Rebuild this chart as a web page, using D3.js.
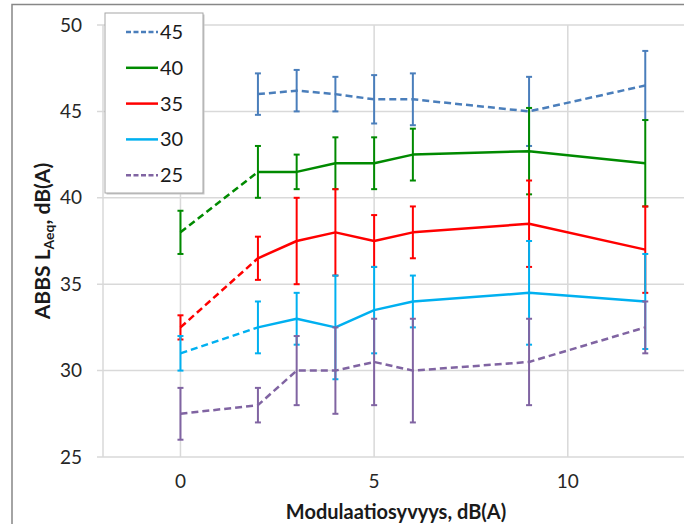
<!DOCTYPE html>
<html>
<head>
<meta charset="utf-8">
<script src="https://cdn.jsdelivr.net/npm/d3@7"></script>
<style>
  body { margin: 0; background: #fff; }
  svg { display: block; font-family: Lato, "Open Sans", sans-serif; }
</style>
</head>
<body>
<div id="chart"></div>
<script>
/* DATA */
const xValues = [0, 2, 3, 4, 5, 6, 9, 12];
const levels = ["45", "40", "35", "30", "25"];
const mean45 = [null, 46.0, 46.2, 46.0, 45.7, 45.7, 45.0, 46.5];
const err45 = [null, 1.2, 1.2, 1.0, 1.4, 1.5, 2.0, 2.0];
const mean40 = [38.0, 41.5, 41.5, 42.0, 42.0, 42.5, 42.7, 42.0];
const err40 = [1.25, 1.5, 1.0, 1.5, 1.5, 1.5, 2.5, 2.5];
const mean35 = [32.5, 36.5, 37.5, 38.0, 37.5, 38.0, 38.5, 37.0];
const err35 = [0.7, 1.25, 2.5, 2.5, 1.5, 1.5, 2.5, 2.5];
const mean30 = [31.0, 32.5, 33.0, 32.5, 33.5, 34.0, 34.5, 34.0];
const err30 = [1.0, 1.5, 1.5, 3.0, 2.5, 1.5, 3.0, 2.75];
const mean25 = [27.5, 28.0, 30.0, 30.0, 30.5, 30.0, 30.5, 32.5];
const err25 = [1.5, 1.0, 2.0, 2.5, 2.5, 3.0, 2.5, 1.5];
const xTicks = [0, 5, 10];
const yTicks = [25, 30, 35, 40, 45, 50];

// style per series (solidFrom = index where solid line starts, null = all dashed)
const colors = ["#4a7ebb", "#008a00", "#ff0000", "#00b0f0", "#8064a2"];
const solidFrom = [null, 1, 1, 1, null];
const means = [mean45, mean40, mean35, mean30, mean25];
const errs = [err45, err40, err35, err30, err25];

/* CONSTANTS */
const width = 684, height = 524;
const margin = { top: 25, bottom: 67, left: 103, right: 0 };

const svg = d3.select("#chart")
  .append("svg")
  .attr("width", width)
  .attr("height", height);

// outer chart frame (cropped on right and bottom)
svg.append("rect")
  .attr("x", 12).attr("y", 4.5)
  .attr("width", 700).attr("height", 560)
  .attr("fill", "none")
  .attr("stroke", "#878787")
  .attr("stroke-width", 1.5);

/* SCALES */
const xScale = d3.scaleLinear()
  .domain([-2, 13])
  .range([margin.left, width - margin.right]);

const yScale = d3.scaleLinear()
  .domain([25, 50])
  .range([height - margin.bottom, margin.top]);

/* GRID */
svg.append("g")
  .selectAll("line")
  .data(yTicks)
  .join("line")
  .attr("x1", margin.left - 6)
  .attr("x2", width)
  .attr("y1", d => yScale(d))
  .attr("y2", d => yScale(d))
  .attr("stroke", "#d9d9d9")
  .attr("stroke-width", 1.5);

svg.append("g")
  .selectAll("line")
  .data([-2].concat(xTicks))
  .join("line")
  .attr("x1", d => xScale(d))
  .attr("x2", d => xScale(d))
  .attr("y1", yScale(50))
  .attr("y2", yScale(25))
  .attr("stroke", "#d9d9d9")
  .attr("stroke-width", 1.5);

/* AXIS LABELS */
svg.append("g")
  .selectAll("text")
  .data(yTicks)
  .join("text")
  .attr("x", 82)
  .attr("y", d => yScale(d))
  .attr("dy", "0.35em")
  .attr("text-anchor", "end")
  .attr("font-size", 19)
  .attr("fill", "#262626")
  .text(d => d);

svg.append("g")
  .selectAll("text")
  .data(xTicks)
  .join("text")
  .attr("x", d => xScale(d))
  .attr("y", 481)
  .attr("dy", "0.35em")
  .attr("text-anchor", "middle")
  .attr("font-size", 19)
  .attr("fill", "#262626")
  .text(d => d);

svg.append("text")
  .attr("x", 396)
  .attr("y", 519)
  .attr("text-anchor", "middle")
  .attr("font-size", 20)
  .attr("font-weight", "bold")
  .attr("fill", "#1a1a1a")
  .text("Modulaatiosyvyys, dB(A)");

const yTitle = svg.append("text")
  .attr("transform", "translate(50, 241) rotate(-90)")
  .attr("text-anchor", "middle")
  .attr("font-size", 21)
  .attr("font-weight", "bold")
  .attr("fill", "#1a1a1a");
yTitle.append("tspan").text("ABBS L");
yTitle.append("tspan").attr("font-size", 14).attr("dy", 4).text("Aeq");
yTitle.append("tspan").attr("dy", -4).text(", dB(A)");

/* SERIES */
const lineFunction = d3.line()
  .defined(d => d.y != null)
  .x(d => xScale(d.x))
  .y(d => yScale(d.y));

means.forEach((m, s) => {
  const pts = xValues.map((x, i) => ({ x: x, y: m[i], e: errs[s][i] }));
  const g = svg.append("g");

  // error bars
  const bars = pts.filter(d => d.y != null);
  g.selectAll("line.err")
    .data(bars)
    .join("line")
    .attr("class", "err")
    .attr("x1", d => xScale(d.x)).attr("x2", d => xScale(d.x))
    .attr("y1", d => yScale(d.y + d.e)).attr("y2", d => yScale(d.y - d.e))
    .attr("stroke", colors[s]).attr("stroke-width", 2);
  g.selectAll("line.cap")
    .data(bars.flatMap(d => [d.y + d.e, d.y - d.e].map(v => ({ x: d.x, v: v }))))
    .join("line")
    .attr("class", "cap")
    .attr("x1", d => xScale(d.x) - 3).attr("x2", d => xScale(d.x) + 3)
    .attr("y1", d => yScale(d.v)).attr("y2", d => yScale(d.v))
    .attr("stroke", colors[s]).attr("stroke-width", 2);

  // lines: dashed part and solid part
  const cut = solidFrom[s];
  const dashedPts = cut == null ? pts : pts.slice(0, cut + 1);
  const solidPts = cut == null ? [] : pts.slice(cut);
  g.append("path")
    .datum(dashedPts)
    .attr("fill", "none")
    .attr("stroke", colors[s])
    .attr("stroke-width", 2.5)
    .attr("stroke-dasharray", "7,4")
    .attr("d", lineFunction);
  if (solidPts.length) {
    g.append("path")
      .datum(solidPts)
      .attr("fill", "none")
      .attr("stroke", colors[s])
      .attr("stroke-width", 2.5)
      .attr("stroke-linejoin", "round")
      .attr("d", lineFunction);
  }
});

/* LEGEND */
const legend = svg.append("g");
legend.append("rect")
  .attr("x", 106.5).attr("y", 14.5)
  .attr("width", 98).attr("height", 180)
  .attr("fill", "#c8c8c8");
legend.append("rect")
  .attr("x", 105).attr("y", 13)
  .attr("width", 98).attr("height", 180)
  .attr("fill", "#fff")
  .attr("stroke", "#a6a6a6")
  .attr("stroke-width", 1);

const legendItems = legend.selectAll("g.item")
  .data(levels)
  .join("g")
  .attr("class", "item")
  .attr("transform", (d, i) => `translate(0, ${32 + i * 35.8})`);

legendItems.append("line")
  .attr("x1", 126).attr("x2", 158)
  .attr("stroke", (d, i) => colors[i])
  .attr("stroke-width", 2.5)
  .attr("stroke-dasharray", (d, i) => solidFrom[i] == null ? "5,2.5" : null);

legendItems.append("text")
  .attr("x", 160)
  .attr("dy", "0.35em")
  .attr("font-size", 20)
  .attr("fill", "#1a1a1a")
  .text(d => d);
</script>
</body>
</html>
